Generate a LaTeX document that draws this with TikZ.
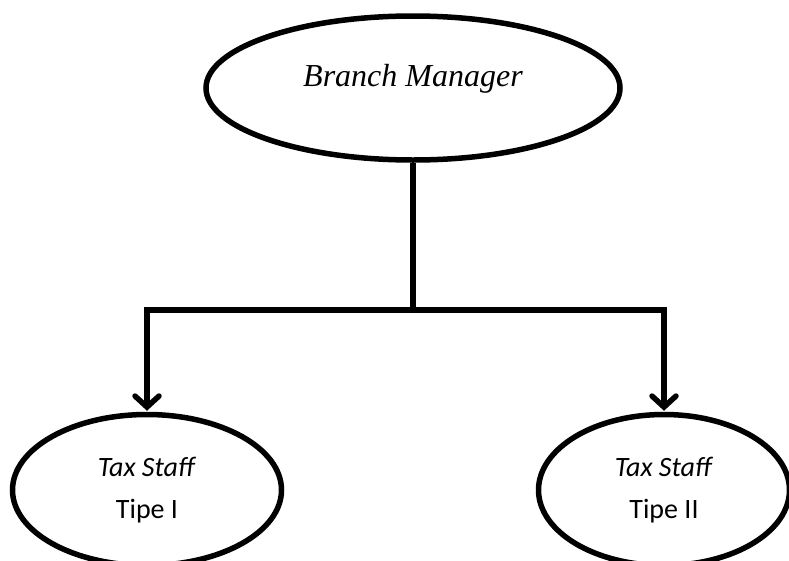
\documentclass[tikz,border=0pt]{standalone}
\usepackage{fontspec}
\usepackage{tikz}
\usetikzlibrary{arrows.meta,positioning,shapes.geometric}
\newfontfamily\headfont{Liberation Serif}
\newfontfamily\stafffont{Carlito}
\tikzset{
  boss/.style  ={draw,ellipse,line width=5.5pt,inner sep=0pt,
                 minimum width=414pt,minimum height=144pt,
                 font=\headfont\itshape\fontsize{32}{38}\selectfont,
                 text height=20pt,text depth=24pt},
  staff/.style ={draw,ellipse,line width=5.5pt,inner sep=0pt,align=center,
                 minimum height=151pt,
                 font=\stafffont\fontsize{28}{42}\selectfont},
  link/.style  ={line width=5.5pt},
  ar/.style    ={line width=5.5pt,-{Straight Barb[length=11pt,width=24pt,line cap=round]},
                 shorten >=1pt},
}

\begin{document}
\begin{tikzpicture}[x=1pt,y=-1pt]
\useasboundingbox (0,0) rectangle (789,560);
\node[boss] (bm) at (413,88) {Branch Manager};
\node[staff,minimum width=269pt] (ts1) at (147,490) {\textit{Tax Staff}\\Tipe I};
\node[staff,minimum width=251pt] (ts2) at (664,490) {\textit{Tax Staff}\\Tipe II};
\coordinate (j) at (413,310);
\draw[link] (bm) -- (j);
\draw[ar] (j) -| (ts1);
\draw[ar] (j) -| (ts2);
\end{tikzpicture}
\end{document}
